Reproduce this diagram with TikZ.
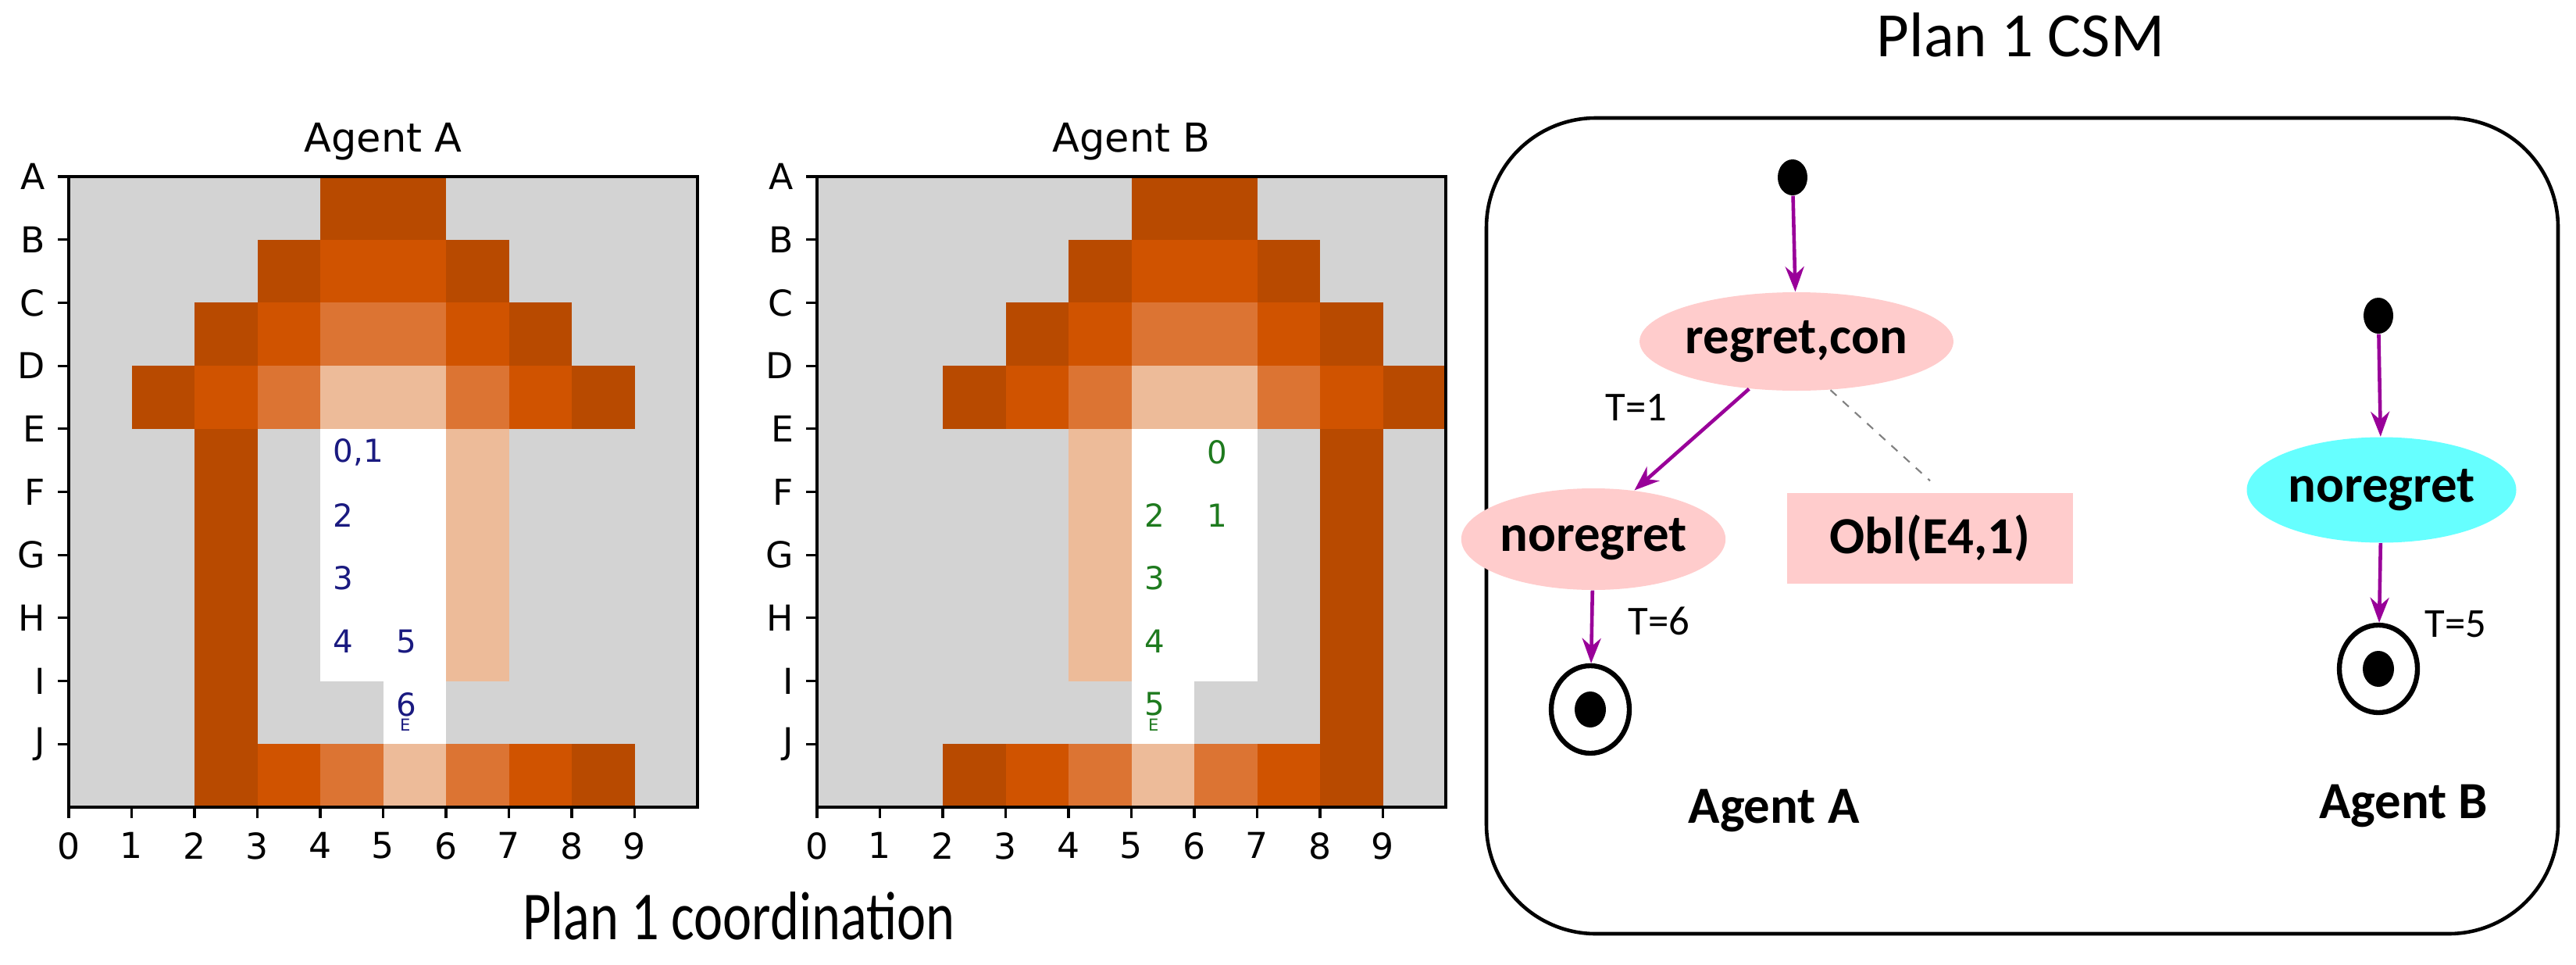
\documentclass[tikz,border=0pt]{standalone}
\usepackage{fontspec}
\setmainfont{Carlito}
\newfontfamily\dejavu{DejaVu Sans}
\usetikzlibrary{shapes.geometric,arrows.meta}
\definecolor{dk}{HTML}{B84A00}
\definecolor{og}{HTML}{D05300}
\definecolor{md}{HTML}{DC7433}
\definecolor{lt}{HTML}{EDBB99}
\definecolor{bg}{HTML}{D3D3D3}
\definecolor{stA}{HTML}{1A1A80}
\definecolor{stB}{HTML}{1E7A1E}
\definecolor{pinkst}{HTML}{FFCCCC}
\definecolor{cyanst}{HTML}{66FFFF}
\definecolor{trans}{HTML}{990099}
\tikzset{
  axlab/.style={font=\dejavu\fontsize{13}{15}\selectfont},
  steplab/.style={font=\dejavu\fontsize{11.5}{13}\selectfont, anchor=west, inner sep=0pt},
  tiny/.style={font=\dejavu\fontsize{6}{7}\selectfont, inner sep=0pt},
  state/.style={ellipse, inner sep=0pt, font=\bfseries\fontsize{19}{22}\selectfont},
  initst/.style={ellipse, fill=black, minimum width=0.38cm, minimum height=0.46cm, inner sep=0pt},
  finalst/.style={ellipse, draw, line width=1.8pt, minimum width=1.0cm, minimum height=1.12cm, inner sep=0pt},
  tr/.style={draw=trans, line width=1.3pt, -{Stealth[length=0.32cm, width=0.24cm]}},
  tlab/.style={font=\fontsize{15}{17}\selectfont}
}
\begin{document}
\begin{tikzpicture}
\useasboundingbox (0,0) rectangle (32.98,-12.35);

% Agent A grid
\begin{scope}[shift={(0.88,-2.26)}, x=0.805cm, y=-0.807cm]
  \fill[bg] (0,0) rectangle (10,10);
  \foreach \c/\r in {4/0,5/0,3/1,6/1,2/2,7/2,1/3,8/3,2/4,2/5,2/6,2/7,2/8,2/9,8/9}
    \fill[dk] (\c,\r) rectangle ++(1,1);
  \foreach \c/\r in {4/1,5/1,3/2,6/2,2/3,7/3,3/9,7/9}
    \fill[og] (\c,\r) rectangle ++(1,1);
  \foreach \c/\r in {4/2,5/2,3/3,6/3,4/9,6/9}
    \fill[md] (\c,\r) rectangle ++(1,1);
  \foreach \c/\r in {4/3,5/3,6/4,6/5,6/6,6/7,5/9}
    \fill[lt] (\c,\r) rectangle ++(1,1);
  \foreach \c/\r in {4/4,5/4,4/5,5/5,4/6,5/6,4/7,5/7,5/8}
    \fill[white] (\c,\r) rectangle ++(1,1);
  \draw[line width=1.3pt] (0,0) rectangle (10,10);
  \foreach \l [count=\i from 0] in {A,B,C,D,E,F,G,H,I,J} {
    \draw[line width=0.9pt] (0,\i) -- ++(-0.17,0);
    \node[axlab, anchor=east] (rowA\i) at (-0.22,\i) {\l};
  }
  \foreach \i in {0,...,9} {
    \draw[line width=0.9pt] (\i,10) -- ++(0,0.17);
    \node[axlab, anchor=north] (colA\i) at (\i,10.25) {\i};
  }
  \node[font=\dejavu\fontsize{14.5}{17}\selectfont] (titleA) at (5,-0.55) {Agent A};
  \foreach \c/\r/\t in {4/4/{0,1},4/5/2,4/6/3,4/7/4,5/7/5,5/8/6}
    \node[steplab, text=stA] (stepA\c\r) at (\c+0.2,\r+0.37) {\t};
  \node[tiny, text=stA] (endA) at (5.35,8.7) {E};
\end{scope}

% Agent B grid
\begin{scope}[shift={(10.46,-2.26)}, x=0.805cm, y=-0.807cm]
  \fill[bg] (0,0) rectangle (10,10);
  \foreach \c/\r in {5/0,6/0,4/1,7/1,3/2,8/2,2/3,9/3,8/4,8/5,8/6,8/7,8/8,8/9,2/9}
    \fill[dk] (\c,\r) rectangle ++(1,1);
  \foreach \c/\r in {5/1,6/1,4/2,7/2,3/3,8/3,3/9,7/9}
    \fill[og] (\c,\r) rectangle ++(1,1);
  \foreach \c/\r in {5/2,6/2,4/3,7/3,4/9,6/9}
    \fill[md] (\c,\r) rectangle ++(1,1);
  \foreach \c/\r in {5/3,6/3,4/4,4/5,4/6,4/7,5/9}
    \fill[lt] (\c,\r) rectangle ++(1,1);
  \foreach \c/\r in {5/4,6/4,5/5,6/5,5/6,6/6,5/7,6/7,5/8}
    \fill[white] (\c,\r) rectangle ++(1,1);
  \draw[line width=1.3pt] (0,0) rectangle (10,10);
  \foreach \l [count=\i from 0] in {A,B,C,D,E,F,G,H,I,J} {
    \draw[line width=0.9pt] (0,\i) -- ++(-0.17,0);
    \node[axlab, anchor=east] (rowB\i) at (-0.22,\i) {\l};
  }
  \foreach \i in {0,...,9} {
    \draw[line width=0.9pt] (\i,10) -- ++(0,0.17);
    \node[axlab, anchor=north] (colB\i) at (\i,10.25) {\i};
  }
  \node[font=\dejavu\fontsize{14.5}{17}\selectfont] (titleB) at (5,-0.55) {Agent B};
  \foreach \c/\r/\t in {6/4/0,6/5/1,5/5/2,5/6/3,5/7/4,5/8/5}
    \node[steplab, text=stB] (stepB\c\r) at (\c+0.2,\r+0.37) {\t};
  \node[tiny, text=stB] (endB) at (5.35,8.7) {E};
\end{scope}

\node (coord) at (9.46,-11.72) {\scalebox{1}[1.25]{\fontsize{20}{24}\selectfont Plan 1 coordination}};

% CSM panel
\node[font=\fontsize{23}{27}\selectfont] (csm) at (25.87,-0.45) {Plan 1 CSM};
\draw[line width=1.3pt, rounded corners=1.4cm] (19.03,-1.51) rectangle (32.75,-11.95);

\node[initst] (initA) at (22.95,-2.27) {};
\node[state, fill=pinkst, minimum width=3.36cm, minimum height=1.26cm] (regret) at (23.0,-4.37) {regret,con};
\node[state, fill=pinkst, minimum width=2.65cm, minimum height=1.3cm] (noregA) at (20.40,-6.90) {noregret};
\node[fill=pinkst, minimum width=3.66cm, minimum height=1.16cm, font=\bfseries\fontsize{19}{22}\selectfont] (obl) at (24.71,-6.89) {Obl(E4,1)};
\node[finalst] (finA) at (20.36,-9.08) {};
\fill (finA) ellipse (0.2cm and 0.23cm);

\node[initst] (initB) at (30.45,-4.04) {};
\node[state, fill=cyanst, minimum width=3.45cm, minimum height=1.35cm] (noregB) at (30.49,-6.27) {noregret};
\node[finalst] (finB) at (30.45,-8.56) {};
\fill (finB) ellipse (0.2cm and 0.23cm);

\draw[tr] (initA) -- (regret);
\draw[tr] (regret.225) -- (noregA.50);
\draw[gray, dashed, line width=0.6pt] (regret.-55) -- ([yshift=0.15cm]obl.north);
\draw[tr] (noregA) -- (finA);
\draw[tr] (initB) -- (noregB);
\draw[tr] (noregB) -- (finB);

\node[tlab] (t1) at (20.95,-5.22) {T=1};
\node[tlab] (t6) at (21.24,-7.95) {T=6};
\node[tlab] (t5) at (31.44,-7.99) {T=5};

\node[font=\bfseries\fontsize{19}{22}\selectfont] (labA) at (22.71,-10.37) {Agent A};
\node[font=\bfseries\fontsize{19}{22}\selectfont] (labB) at (30.77,-10.31) {Agent B};
\end{tikzpicture}
\end{document}
